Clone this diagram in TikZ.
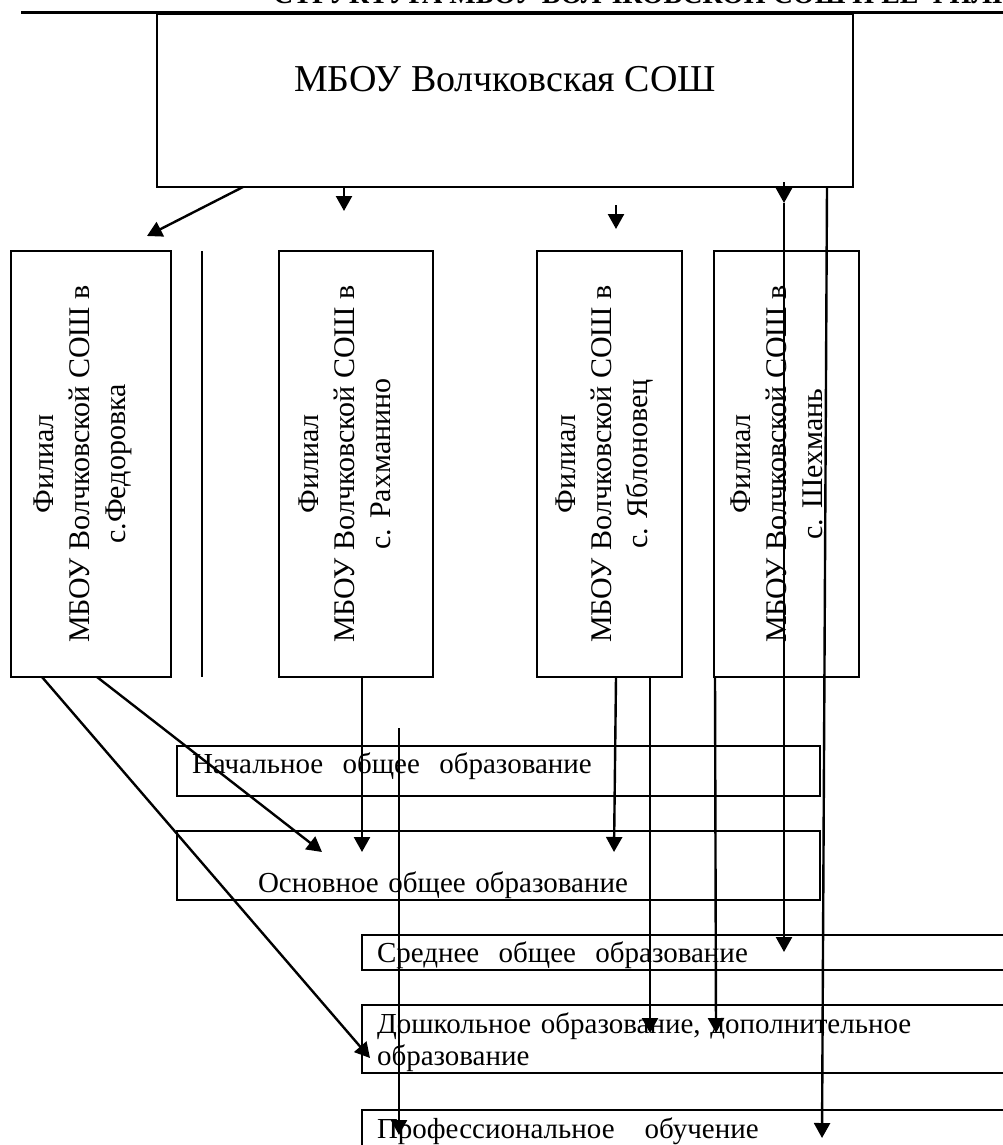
\documentclass[tikz,border=0pt]{standalone}
\usepackage{fontspec}
\setmainfont{Liberation Serif}
\usepackage{graphicx}
\usetikzlibrary{positioning,arrows.meta,calc}

\begin{document}
\begin{tikzpicture}[x=1pt,y=1pt,line width=2.4pt,
  filial/.style={draw, anchor=north west, inner sep=0pt, outer sep=0pt, minimum width=#1, minimum height=426pt, font=\fontsize{30}{36}\selectfont},
  level/.style={draw, anchor=north west, inner xsep=15pt, inner ysep=0pt, outer sep=0pt, align=left, text width=#1, font=\fontsize{29}{32}\selectfont},
  arr/.style={-{Triangle[length=15pt,width=16pt]}}]

\useasboundingbox (0,0) rectangle (1003,-1145);

% TITLE

\node [anchor=base west, inner sep=0pt, font=\bfseries\fontsize{28}{32}\selectfont] (titul) at (272,-4) {СТРУКТУРА МБОУ ВОЛЧКОВСКОЙ СОШ И ЕЁ ФИЛИАЛОВ};
\draw [line width=3.5pt] (21,-12.5) -- (1010,-12.5);

\node [draw, anchor=north west, inner sep=0pt, outer sep=0pt, minimum width=696pt, minimum height=173pt, text height=27pt, text depth=44pt, font=\fontsize{38}{44}\selectfont] (mbou) at (157,-14) {МБОУ Волчковская СОШ};

% FILIALS

\node [filial=160pt] (fedorovka) at (11,-251)
{\rotatebox{90}{\begin{tabular}{c}Филиал\\МБОУ Волчковской СОШ в\\с.Федоровка\end{tabular}}\hspace*{18pt}};

\node [filial=154pt, right=108pt of fedorovka.north east, anchor=north west] (rahmanino)
{\rotatebox{90}{\begin{tabular}{c}Филиал\\МБОУ Волчковской СОШ в\\с. Рахманино\end{tabular}}\hspace*{18pt}};

\node [filial=145pt, right=104pt of rahmanino.north east, anchor=north west] (yablonovets)
{\rotatebox{90}{\begin{tabular}{c}Филиал\\МБОУ Волчковской СОШ в\\с. Яблоновец\end{tabular}}\hspace*{10pt}};

\node [filial=145pt, right=32pt of yablonovets.north east, anchor=north west] (shehman)
{\rotatebox{90}{\begin{tabular}{c}Филиал\\МБОУ Волчковской СОШ в\\с. Шехмань\end{tabular}}\hspace*{14pt}};

\draw ([xshift=31pt]fedorovka.north east) -- ([xshift=31pt]fedorovka.south east);

% LEVELS

\node [level=613pt, minimum height=50pt, text height=24pt, text depth=20pt] (nachalnoe) at (177,-746)
{Начальное\ \ общее\ \ образование};

\node [level=613pt, minimum height=69pt, text height=60pt, text depth=7pt, below=35pt of nachalnoe.south west, anchor=north west] (osnovnoe)
{\hspace*{66pt}Основное общее образование};

\node [level=670pt, minimum height=35pt, text height=25pt, text depth=6pt] (srednee) at (362,-935)
{Среднее\ \ общее\ \ образование};

\node [level=670pt, minimum height=68pt, text height=25pt, text depth=37pt, below=35pt of srednee.south west, anchor=north west] (doshkolnoe)
{Дошкольное образование, дополнительное\\образование};

\node [level=670pt, minimum height=50pt, text height=25pt, text depth=19pt, below=37pt of doshkolnoe.south west, anchor=north west] (prof)
{Профессиональное\hspace{30pt}обучение};

% LINKS

\draw [arr] ([xshift=86pt]mbou.south west) -- ([xshift=-24pt,yshift=15pt]fedorovka.north east);
\draw [arr] ([xshift=187pt]mbou.south west) -- ([xshift=65pt,yshift=40pt]rahmanino.north west);
\draw [arr] ([xshift=79pt,yshift=46pt]yablonovets.north west) -- ([xshift=79pt,yshift=22pt]yablonovets.north west);
\draw [arr] ([xshift=627pt,yshift=5pt]mbou.south west) -- ([xshift=70pt,yshift=48pt]shehman.north west);
\draw [arr] ([xshift=70pt,yshift=48pt]shehman.north west) -- ([xshift=422pt,yshift=-17pt]srednee.north west);
\draw [arr] ([xshift=670pt]mbou.south west) -- ([xshift=460pt,yshift=-28pt]prof.north west);

\draw [arr] ([xshift=31pt]fedorovka.south west) -- ([xshift=8pt,yshift=-53pt]doshkolnoe.north west);
\draw [arr] ([xshift=86pt]fedorovka.south west) -- ([xshift=145pt,yshift=-21pt]osnovnoe.north west);
\draw [arr] ([xshift=83pt]rahmanino.south west) -- ([xshift=185pt,yshift=-21pt]osnovnoe.north west);
\draw [arr] ([xshift=222pt,yshift=18pt]nachalnoe.north west) -- ([xshift=37pt,yshift=-25pt]prof.north west);
\draw [arr] ([xshift=79pt]yablonovets.south west) -- ([xshift=437pt,yshift=-21pt]osnovnoe.north west);
\draw [arr] ([xshift=113pt]yablonovets.south west) -- ([xshift=288pt,yshift=-28pt]doshkolnoe.north west);
\draw [arr] ([xshift=1pt]shehman.south west) -- ([xshift=354pt,yshift=-28pt]doshkolnoe.north west);

\end{tikzpicture}
\end{document}
